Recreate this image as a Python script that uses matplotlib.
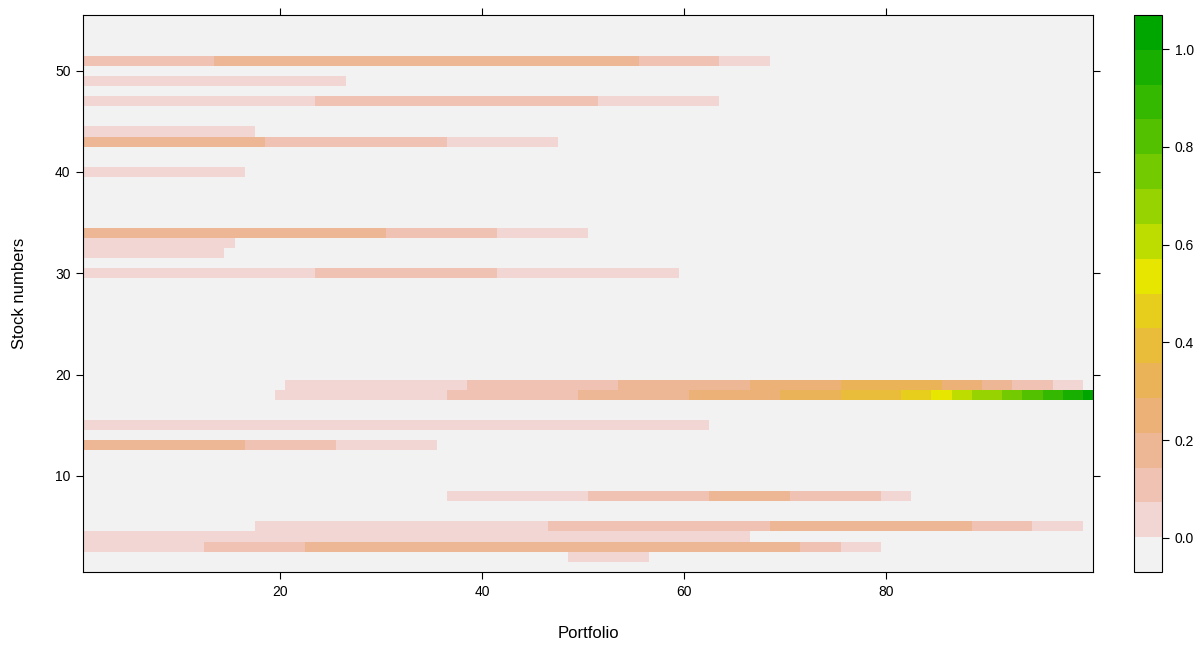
import colorsys
import numpy as np
import matplotlib
matplotlib.use('Agg')
import matplotlib.pyplot as plt
from matplotlib.colors import ListedColormap, BoundaryNorm

plt.rcParams['font.family'] = ['Liberation Sans', 'DejaVu Sans']

n_portfolios = 100
n_stocks = 55

# Portfolio weights, one list per stock: (first portfolio, last portfolio, weight)
stock_2 = [(49, 56, 0.04)]
stock_3 = [(1, 12, 0.04), (13, 22, 0.11), (23, 71, 0.18), (72, 75, 0.11), (76, 79, 0.04)]
stock_4 = [(1, 66, 0.04)]
stock_5 = [(18, 46, 0.04), (47, 68, 0.11), (69, 88, 0.18), (89, 94, 0.11), (95, 99, 0.04)]
stock_8 = [(37, 50, 0.04), (51, 62, 0.11), (63, 70, 0.18), (71, 79, 0.11), (80, 82, 0.04)]
stock_13 = [(1, 16, 0.18), (17, 25, 0.11), (26, 35, 0.04)]
stock_15 = [(1, 62, 0.04)]
stock_18 = [(20, 36, 0.04), (37, 49, 0.11), (50, 60, 0.18), (61, 69, 0.25), (70, 75, 0.32),
            (76, 81, 0.39), (82, 84, 0.46), (85, 86, 0.54), (87, 88, 0.61), (89, 91, 0.68),
            (92, 93, 0.75), (94, 95, 0.82), (96, 97, 0.89), (98, 99, 0.96), (100, 100, 1.0)]
stock_19 = [(21, 38, 0.04), (39, 53, 0.11), (54, 66, 0.18), (67, 75, 0.25), (76, 85, 0.32),
            (86, 89, 0.25), (90, 92, 0.18), (93, 96, 0.11), (97, 99, 0.04)]
stock_30 = [(1, 23, 0.04), (24, 41, 0.11), (42, 59, 0.04)]
stock_32 = [(1, 14, 0.04)]
stock_33 = [(1, 15, 0.04)]
stock_34 = [(1, 30, 0.18), (31, 41, 0.11), (42, 50, 0.04)]
stock_40 = [(1, 16, 0.04)]
stock_43 = [(1, 18, 0.18), (19, 36, 0.11), (37, 47, 0.04)]
stock_44 = [(1, 17, 0.04)]
stock_47 = [(1, 23, 0.04), (24, 51, 0.11), (52, 63, 0.04)]
stock_49 = [(1, 26, 0.04)]
stock_51 = [(1, 13, 0.11), (14, 55, 0.18), (56, 63, 0.11), (64, 68, 0.04)]

held = {2: stock_2, 3: stock_3, 4: stock_4, 5: stock_5, 8: stock_8, 13: stock_13,
        15: stock_15, 18: stock_18, 19: stock_19, 30: stock_30, 32: stock_32,
        33: stock_33, 34: stock_34, 40: stock_40, 43: stock_43, 44: stock_44,
        47: stock_47, 49: stock_49, 51: stock_51}

x_ticks = [20, 40, 60, 80]
y_ticks = [10, 20, 30, 40, 50]
cbar_ticks = [0.0, 0.2, 0.4, 0.6, 0.8, 1.0]


def terrain_colors(n):
    """Same ramp as R's terrain.colors()"""
    k = n // 2
    cols = []
    hs = np.linspace(4 / 12, 2 / 12, k)
    vs = np.linspace(0.65, 0.9, k)
    for h, v in zip(hs, vs):
        cols.append(colorsys.hsv_to_rgb(h, 1.0, v))
    hs = np.linspace(2 / 12, 0, n - k + 1)[1:]
    ss = np.linspace(1, 0, n - k + 1)[1:]
    vs = np.linspace(0.9, 0.95, n - k + 1)[1:]
    for h, s, v in zip(hs, ss, vs):
        cols.append(colorsys.hsv_to_rgb(h, s, v))
    return cols


weights = np.zeros((n_stocks, n_portfolios))
for stock, runs in held.items():
    for first, last, w in runs:
        weights[stock - 1, first - 1:last] = w

n_cuts = 16
levels = np.linspace(-0.07, 1.07, n_cuts + 1)
cmap = ListedColormap(terrain_colors(n_cuts)[::-1])
norm = BoundaryNorm(levels, cmap.N)

fig = plt.figure(figsize=(12, 6.45), dpi=100)
ax = fig.add_axes([83 / 1200, 1 - 572 / 645, 1010 / 1200, 557 / 645])
cax = fig.add_axes([1134 / 1200, 1 - 572 / 645, 28 / 1200, 557 / 645])

x_edges = np.arange(n_portfolios + 1) + 0.5
y_edges = np.arange(n_stocks + 1) + 0.5
mesh = ax.pcolormesh(x_edges, y_edges, weights, cmap=cmap, norm=norm)

ax.set_xlim(0.5, n_portfolios + 0.5)
ax.set_ylim(0.5, n_stocks + 0.5)
ax.set_xticks(x_ticks)
ax.set_yticks(y_ticks)
ax.tick_params(direction='out', length=5, width=0.8, labelsize=10,
               top=True, right=True, labeltop=False, labelright=False, pad=4)
ax.set_xlabel('Portfolio', fontsize=12, labelpad=20)
ax.set_ylabel('Stock numbers', fontsize=12, labelpad=20)
for spine in ax.spines.values():
    spine.set_linewidth(0.8)

cb = fig.colorbar(mesh, cax=cax, ticks=cbar_ticks)
cb.minorticks_off()
cb.ax.yaxis.set_major_formatter(plt.FormatStrFormatter('%.1f'))
cb.ax.tick_params(direction='out', length=5, width=0.8, labelsize=10, pad=4)
cb.outline.set_linewidth(0.8)

plt.savefig('out.png', dpi=100)
